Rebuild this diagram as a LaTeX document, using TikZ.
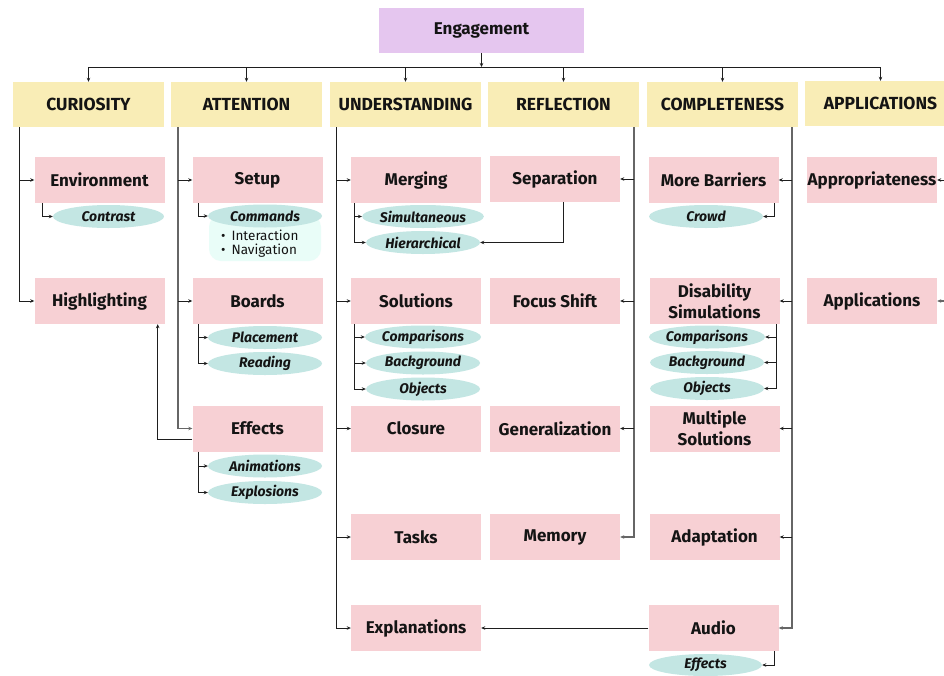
\documentclass[tikz,border=0pt]{standalone}
\usepackage{fontspec}
\setmainfont{Fira Sans}
\usetikzlibrary{shapes.geometric,arrows.meta,calc}
\definecolor{cpurple}{HTML}{E5C6EF}
\definecolor{cyellow}{HTML}{F9EDB6}
\definecolor{cpink}{HTML}{F7D0D4}
\definecolor{cteal}{HTML}{C3E6E3}
\definecolor{cblob}{HTML}{E9FDF8}
\definecolor{cline}{HTML}{1E1E1E}
\definecolor{cgray}{HTML}{666666}
\definecolor{ctxt}{HTML}{141414}
\begin{document}
\begin{tikzpicture}[x=1pt,y=-1pt,
  box/.style={rectangle, inner sep=0pt, minimum width=130, minimum height=46,
    font=\fontsize{17}{21}\selectfont\bfseries, text=ctxt, align=center},
  pbox/.style={box, fill=cpink},
  hbox/.style={box, fill=cyellow, minimum width=151, minimum height=45,
    font=\fontsize{17.5}{21}\selectfont\bfseries},
  oval/.style={ellipse, fill=cteal, minimum width=114, minimum height=23, inner sep=0pt,
    font=\fontsize{14}{16}\selectfont\bfseries\itshape, text=ctxt},
  blobbox/.style={rectangle, rounded corners=12pt, fill=cblob, minimum width=112, minimum height=46, inner sep=0pt},
  bul/.style={anchor=west, inner sep=0pt, font=\fontsize{13.5}{15}\selectfont, text=ctxt},
  conn/.style={draw=cline, line width=0.9pt, -{Stealth[length=4pt,width=3.5pt]}},
  plain/.style={draw=cline, line width=0.9pt},
  trunk/.style={conn, draw=cgray, line width=1.4pt}
]
\clip (0,0) rectangle (944,675);
\fill[white] (0,0) rectangle (944,675);

% top
\node[box, fill=cpurple, minimum width=205, minimum height=45] (eng) at (481.5,30.5) {Engagement};
\node[hbox] (cur) at (88.5,104.5) {CURIOSITY};
\node[hbox] (att) at (246.5,104.5) {ATTENTION};
\node[hbox] (und) at (405.5,104.5) {UNDERSTANDING};
\node[hbox] (ref) at (563.5,104.5) {REFLECTION};
\node[hbox] (com) at (722.5,104.5) {COMPLETENESS};
\node[hbox] (app) at (880.5,103.5) {APPLICATIONS};

% pink boxes
\node[pbox] (env) at (99.5,180) {Environment};
\node[pbox] (hig) at (99.5,301) {Highlighting};
\node[pbox] (set) at (257.5,180) {Setup};
\node[pbox] (boa) at (257.5,301) {Boards};
\node[pbox] (eff) at (257.5,428.5) {Effects};
\node[pbox] (mer) at (416,180) {Merging};
\node[pbox] (sol) at (416,301) {Solutions};
\node[pbox] (clo) at (416,428.5) {Closure};
\node[pbox] (tas) at (416,537) {Tasks};
\node[pbox] (exp) at (416,628) {Explanations};
\node[pbox] (sep) at (555,179) {Separation};
\node[pbox] (foc) at (555,301) {Focus Shift};
\node[pbox] (gen) at (555,428.5) {Generalization};
\node[pbox] (mem) at (555,537) {Memory};
\node[pbox] (mor) at (713.5,180) {More Barriers};
\node[pbox] (dis) at (714.5,301) {Disability\\Simulations};
\node[pbox] (mul) at (714.5,428.5) {Multiple\\Solutions};
\node[pbox] (ada) at (714.5,537) {Adaptation};
\node[pbox] (aud) at (713.5,628) {Audio};
\node[pbox] (apr) at (872,180) {Appropriateness};
\node[pbox] (apl) at (872,301) {Applications};

% ovals
\node[oval, minimum width=111] (con) at (108.5,216.5) {Contrast};
\node[blobbox] (cbg) at (265,238) {};
\node[oval] (cmd) at (265,216) {Commands};
\node[bul] (b1) at (221,235) {\textbullet\hspace{6pt}Interaction};
\node[bul] (b2) at (221,251) {\textbullet\hspace{6pt}Navigation};
\node[oval] (pla) at (265,337.5) {Placement};
\node[oval] (rea) at (265,363.5) {Reading};
\node[oval] (ani) at (265,466) {Animations};
\node[oval] (exl) at (265,492.5) {Explosions};
\node[oval] (sim) at (423,216.5) {Simultaneous};
\node[oval] (hie) at (423,242.5) {Hierarchical};
\node[oval] (cp1) at (423,337) {Comparisons};
\node[oval] (bg1) at (423,363) {Background};
\node[oval] (ob1) at (423,389) {Objects};
\node[oval] (cro) at (706,216.5) {Crowd};
\node[oval] (cp2) at (707,337) {Comparisons};
\node[oval] (bg2) at (707,362.5) {Background};
\node[oval] (ob2) at (707,388.5) {Objects};
\node[oval, minimum width=113, minimum height=22] (efa) at (705.5,665) {Effects};

% bus
\coordinate (bus) at (0,67);
\draw[conn] (eng.south) -- (eng.south |- bus);
\draw[plain] (cur.north |- bus) -- (app.north |- bus);
\foreach \h in {cur,att,und,ref,com,app}
  \draw[conn] (\h.north |- bus) -- (\h.north);

% column trunks
\coordinate (t1) at (19,127);
\draw[conn] (t1) |- (hig.west);
\draw[conn] (t1 |- env.west) -- (env.west);

\coordinate (t2) at (178,127);
\draw[trunk] (t2) |- (eff.west);
\draw[conn] (t2 |- set.west) -- (set.west);
\draw[conn] (t2 |- boa.west) -- (boa.west);

\coordinate (t3) at (336,127);
\draw[conn] (t3) |- (exp.west);
\foreach \n in {mer,sol,clo,tas}
  \draw[conn] (t3 |- \n.west) -- (\n.west);

\coordinate (t4) at (634,127);
\draw[trunk] (t4) |- (mem.east);
\foreach \n in {sep,foc,gen}
  \draw[conn] (t4 |- \n.east) -- (\n.east);

\coordinate (t5) at (792,127);
\draw[trunk] (t5) |- (aud.east);
\foreach \n in {mor,dis,mul,ada}
  \draw[conn] (t5 |- \n.east) -- (\n.east);

\coordinate (t6) at (952,127);
\draw[trunk] (t6) |- (apl.east);
\draw[conn] (t6 |- apr.east) -- (apr.east);

% sub connectors
\draw[conn] ([xshift=8]env.south west) |- (con.west);
\draw[conn] ([xshift=6]set.south west) |- (cmd.west);
\coordinate (sb) at ([xshift=6]boa.south west);
\draw[conn] (sb) |- (rea.west);
\draw[conn] (sb |- pla.west) -- (pla.west);
\coordinate (se) at ([xshift=6]eff.south west);
\draw[conn] (se) |- (exl.west);
\draw[conn] (se |- ani.west) -- (ani.west);
\coordinate (sm) at ([xshift=4]mer.south west);
\draw[conn] (sm) |- (hie.west);
\draw[conn] (sm |- sim.west) -- (sim.west);
\coordinate (ss) at ([xshift=4]sol.south west);
\draw[conn] (ss) |- (ob1.west);
\draw[conn] (ss |- cp1.west) -- (cp1.west);
\draw[conn] (ss |- bg1.west) -- (bg1.west);
\draw[conn] ([xshift=8]sep.south) |- (hie.east);
\draw[conn] ([xshift=-4.5]mor.south east) |- (cro.east);
\coordinate (sd) at ([xshift=-3.5]dis.south east);
\draw[conn] (sd) |- (ob2.east);
\draw[conn] (sd |- cp2.east) -- (cp2.east);
\draw[conn] (sd |- bg2.east) -- (bg2.east);
\draw[conn] ([xshift=-4.5]aud.south east) |- (efa.east);
\draw[conn] (aud.west) -- (exp.east);
\draw[conn] ([yshift=-10.5]eff.west) -| ([xshift=-7]hig.south east);
\end{tikzpicture}
\end{document}
